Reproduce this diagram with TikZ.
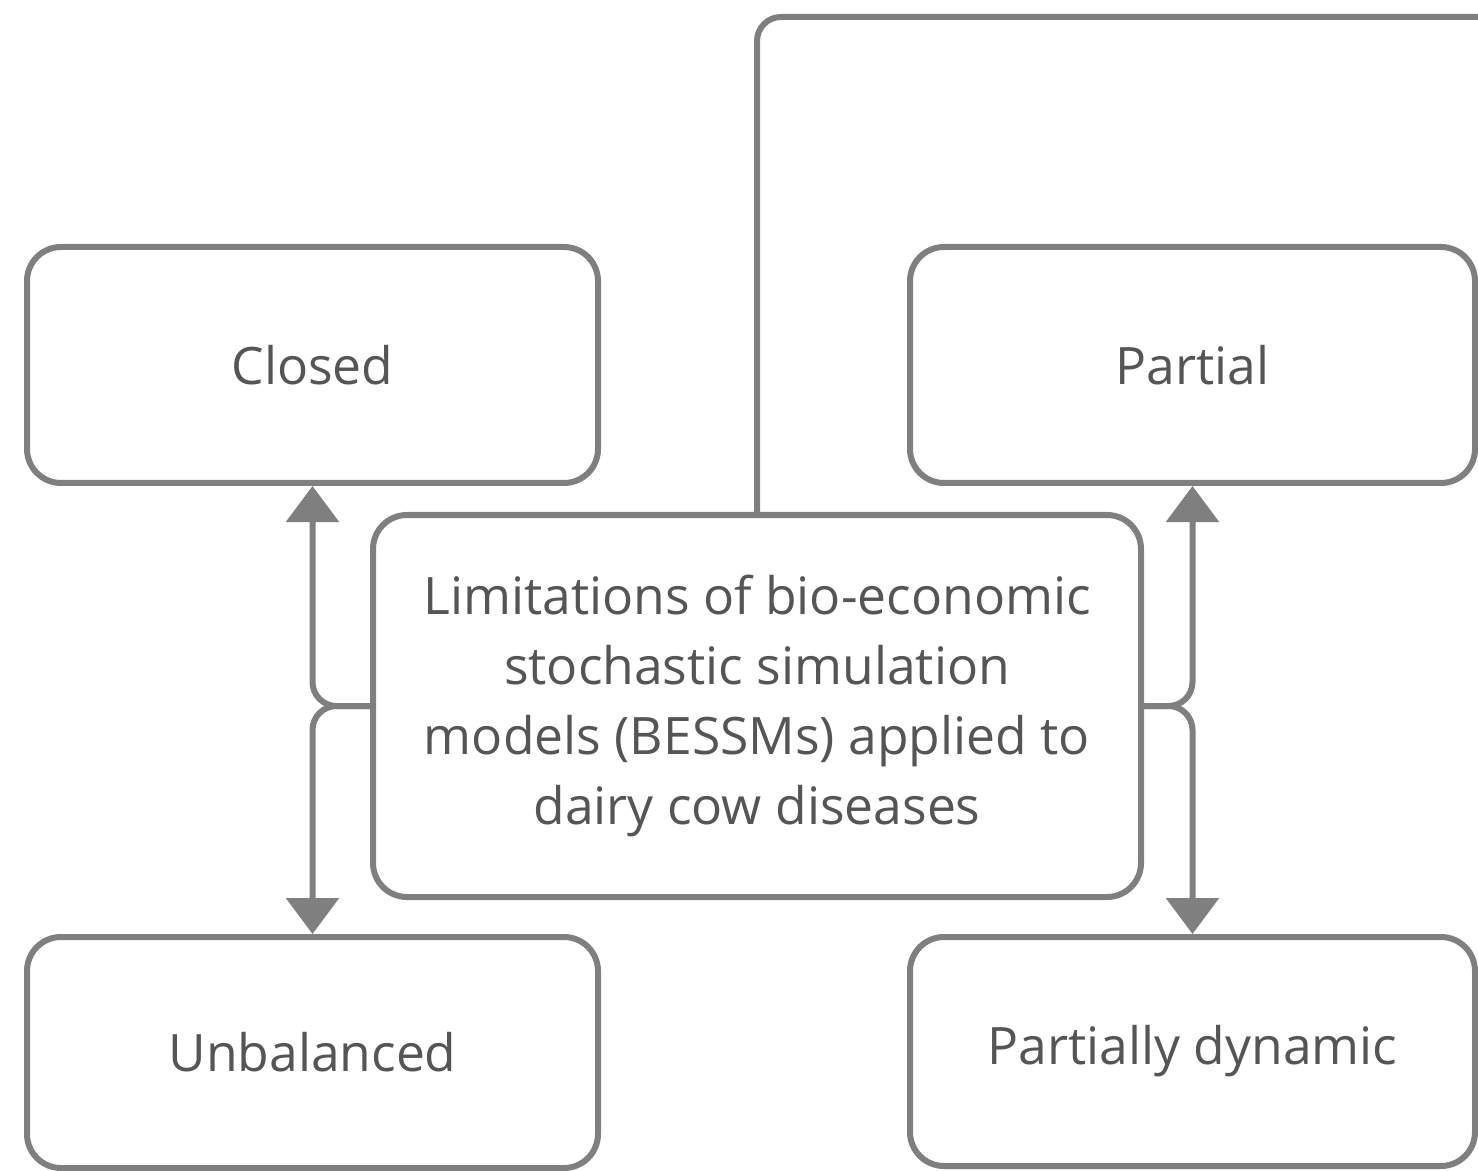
\documentclass[tikz,border=0pt]{standalone}
\usepackage{fontspec}
\setmainfont{Open Sans}
\usetikzlibrary{arrows.meta}
\definecolor{linegray}{HTML}{7F7F7F}
\definecolor{textgray}{HTML}{555555}
\tikzset{
  box/.style={draw=linegray, line width=3pt, rounded corners=17pt, fill=white,
    text=textgray, font=\fontsize{25.8}{35}\selectfont, align=center, inner sep=0pt},
  conn/.style={draw=linegray, line width=3pt, rounded corners=12pt},
  arr/.style={conn, -{Triangle[width=26pt,length=18pt]}},
}
\begin{document}
\begin{tikzpicture}[x=0.5pt,y=-0.5pt]
\useasboundingbox (0,0) rectangle (1478,1171);
\node[box, minimum width=285.5pt, minimum height=118pt] (closed) at (312.5,365) {Closed};
\node[box, minimum width=282.5pt, minimum height=118pt] (partial) at (1192.5,365) {Partial};
\node[box, minimum width=285.5pt, minimum height=115.5pt] (unbal) at (312.5,1052.5) {Unbalanced};
\node[box, minimum width=282.5pt, minimum height=114.5pt] (pdyn) at (1192.5,1051.5) {Partially dynamic};
\node[box, minimum width=384pt, minimum height=191pt] (main) at (757,706) {Limitations of bio-economic\\stochastic simulation\\models (BESSMs) applied to\\dairy cow diseases};
\coordinate (topright) at (1500,17);
\draw[conn] (main.north) |- (topright);
\draw[arr] (main.west) -| (closed.south);
\draw[arr] (main.west) -| (unbal.north);
\draw[arr] (main.east) -| (partial.south);
\draw[arr] (main.east) -| (pdyn.north);
\end{tikzpicture}
\end{document}
